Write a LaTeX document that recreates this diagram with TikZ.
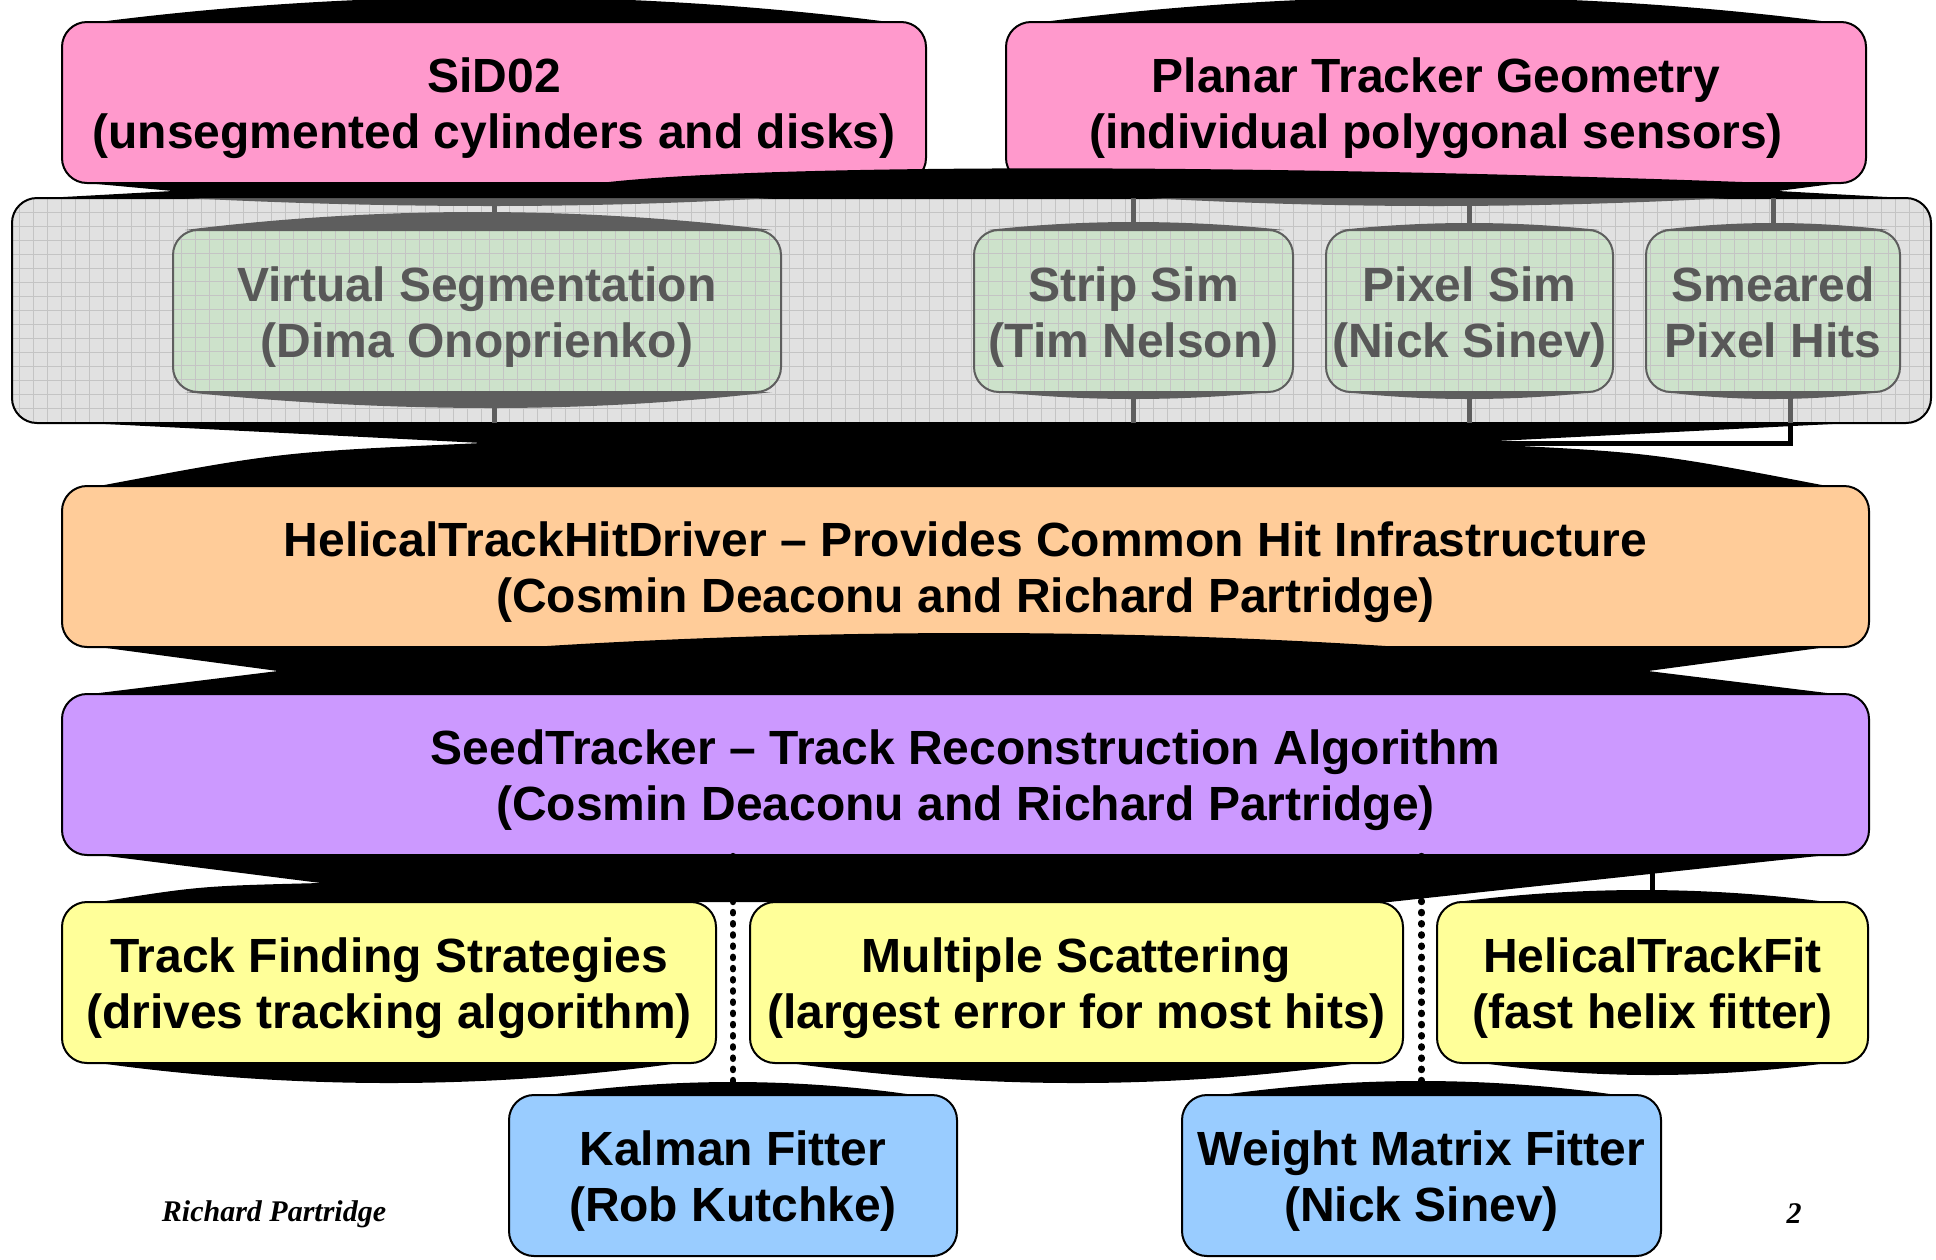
\documentclass[tikz,border=0pt]{standalone}
\usepackage{fontspec}
\setmainfont{Liberation Sans}
\newfontfamily\sigfont{Liberation Serif}
\usetikzlibrary{calc}

\definecolor{pinkfill}{RGB}{255,153,204}
\definecolor{orangefill}{RGB}{255,204,153}
\definecolor{purplefill}{RGB}{204,153,255}
\definecolor{yellowfill}{RGB}{255,255,153}
\definecolor{bluefill}{RGB}{153,204,255}
\definecolor{greenfill}{RGB}{205,226,203}
\definecolor{panelfill}{RGB}{225,225,225}
\definecolor{panelgrid}{RGB}{196,196,196}
\definecolor{shade}{RGB}{94,94,94}
\definecolor{greytext}{RGB}{88,88,88}

% two centred lines, set a little below the middle of their box
\newcommand\twoline[2]{\raisebox{-3.5pt}[\height][\depth]{%
  \begin{tabular}{@{}c@{}}#1\\#2\end{tabular}}}

\tikzset{
  box/.style={draw=black, line width=1pt, rounded corners=12.5pt,
    inner sep=0pt, minimum height=80.5pt,
    font=\fontsize{24}{28}\selectfont\bfseries},
  pinkbox/.style={box, fill=pinkfill},
  orangebox/.style={box, fill=orangefill},
  purplebox/.style={box, fill=purplefill},
  yellowbox/.style={box, fill=yellowfill},
  bluebox/.style={box, fill=bluefill},
  meshed/.style={path picture={
      \draw[panelgrid, line width=0.5pt, step=7pt]
        (path picture bounding box.south west) grid (path picture bounding box.north east);}},
  simbox/.style={box, draw=shade, fill=greenfill, text=greytext, meshed, minimum height=81pt},
  panelbox/.style={draw=black, line width=1pt, rounded corners=12.5pt, fill=panelfill, meshed,
    inner sep=0pt},
  blob/.style={fill=black},
  shadeblob/.style={fill=shade},
  conn/.style={draw=black, line width=2.5pt},
  simconn/.style={draw=shade, line width=2.5pt},
  dotline/.style={draw=black, line width=3.2pt, line cap=round, dash pattern=on 0.6pt off 5pt},
  sig/.style={font=\sigfont\bfseries\itshape\fontsize{15}{18}\selectfont}
}

\begin{document}
\begin{tikzpicture}[x=0.5pt, y=-0.5pt]
\useasboundingbox (0,0) rectangle (1936,1259);
\clip (0,0) rectangle (1936,1259);

% bulges above the two geometry boxes
\fill[blob] (99,22) parabola bend (494,-3) (889,22) -- cycle;
\fill[blob] (1043,22) parabola bend (1436,-3) (1829,22) -- cycle;

% simulation panel
\node[panelbox, minimum width=959.5pt, minimum height=112.5pt] (panel) at (971.5,310.5) {};

% dark bulges inside the panel
\fill[shadeblob] (185,198) parabola bend (492,206) (772,198) -- cycle;
\fill[shadeblob] (1148,198) parabola bend (1436,206) (1728,198) -- cycle;
\fill[shadeblob] (185,230) parabola bend (477,212) (772,230) -- cycle;
\fill[shadeblob] (988,230) parabola bend (1133,222) (1284,230) -- cycle;
\fill[shadeblob] (1340,230) parabola bend (1469,223) (1599,230) -- cycle;
\fill[shadeblob] (1661,230) parabola bend (1773,223) (1889,230) -- cycle;
\fill[shadeblob] (185,392) parabola bend (492,408) (772,392) -- cycle;
\fill[shadeblob] (1000,392) parabola bend (1133,399) (1270,392) -- cycle;
\fill[shadeblob] (1345,392) parabola bend (1469,399) (1595,392) -- cycle;
\fill[shadeblob] (1665,392) parabola bend (1773,399) (1880,392) -- cycle;

% geometry boxes
\node[pinkbox, minimum width=432pt] (sid) at (494,102.5)
  {\twoline{SiD02}{(unsegmented cylinders and disks)}};
\node[pinkbox, minimum width=430pt] (ptg) at (1436,102.5)
  {\twoline{Planar Tracker Geometry}{(individual polygonal sensors)}};

% hit simulation boxes
\node[simbox, minimum width=304pt] (vs) at (477,311)
  {\twoline{Virtual Segmentation}{(Dima Onoprienko)}};
\node[simbox, minimum width=159.5pt] (strip) at (1133.5,311)
  {\twoline{Strip Sim}{(Tim Nelson)}};
\node[simbox, minimum width=143.5pt] (pixel) at (1469.5,311)
  {\twoline{Pixel Sim}{(Nick Sinev)}};
\node[simbox, minimum width=127pt] (smear) at (1773,311)
  {\twoline{Smeared}{Pixel Hits}};

% links inside the panel
\draw[simconn] (sid.south) -- (sid.south |- vs.north);
\draw[simconn] (ptg.south -| strip.north) -- (strip.north);
\draw[simconn] (ptg.south -| pixel.north) -- (pixel.north);
\draw[simconn] (ptg.south -| smear.north) -- (smear.north);
\draw[simconn] (sid.south |- vs.south) -- (sid.south |- panel.south);
\draw[simconn] (strip.south) -- (strip.south |- panel.south);
\draw[simconn] (pixel.south) -- (pixel.south |- panel.south);
\coordinate (smr) at ($(smear.south)+(17,0)$);
\draw[simconn] (smr) -- (smr |- panel.south);

% tracking layers
\node[orangebox, minimum width=903.5pt] (hthd) at (965.5,566.5)
  {\twoline{HelicalTrackHitDriver -- Provides Common Hit Infrastructure}{(Cosmin Deaconu and Richard Partridge)}};
\node[purplebox, minimum width=903.5pt] (seed) at (965.5,774.5)
  {\twoline{SeedTracker -- Track Reconstruction Algorithm}{(Cosmin Deaconu and Richard Partridge)}};

\node[yellowbox, minimum width=327pt] (tfs) at (389,982.5)
  {\twoline{Track Finding Strategies}{(drives tracking algorithm)}};
\node[yellowbox, minimum width=326.5pt] (mss) at (1076.5,982.5)
  {\twoline{Multiple Scattering}{(largest error for most hits)}};
\node[yellowbox, minimum width=215.5pt] (htf) at (1652.5,982.5)
  {\twoline{HelicalTrackFit}{(fast helix fitter)}};

\node[bluebox, minimum width=224pt] (kal) at (733,1175.5)
  {\twoline{Kalman Fitter}{(Rob Kutchke)}};
\node[bluebox, minimum width=239.5pt] (wmf) at (1421.5,1175.5)
  {\twoline{Weight Matrix Fitter}{(Nick Sinev)}};

% black bands between the layers
\fill[blob] (86,183) -- (600,183) .. controls (750,165) and (1200,162) .. (1770,183)
  -- (1840,183) -- (1778,191) -- (1905,198) -- (45,198) -- (173,191) -- cycle;
\fill[blob] (86,423) -- (1852,423) -- (1457,443) .. controls (1650,452) .. (1827,486)
  -- (99,486) .. controls (280,452) .. (482,443) -- cycle;
\fill[blob] (99,647) -- (531,647) parabola bend (975,633) (1401,647) -- (1827,647)
  -- (1648,671) -- (1827,693) -- (99,693) -- (278,671) -- cycle;
\fill[blob] (99,855) -- (1827,855) -- (1389,902) -- (99,902)
  .. controls (200,886) .. (321,883) -- cycle;

% bulges around the lower boxes
\fill[blob] (1457,902) parabola bend (1642,890) (1827,902) -- cycle;
\fill[blob] (99,1063) parabola bend (389,1083) (679,1063) -- cycle;
\fill[blob] (790,1063) parabola bend (1076,1083) (1358,1063) -- cycle;
\fill[blob] (1482,1063) parabola bend (1652,1075) (1827,1063) -- cycle;
\fill[blob] (549,1095) parabola bend (733,1082) (914,1095) -- cycle;
\fill[blob] (1222,1095) parabola bend (1421,1081) (1617,1095) -- cycle;

% connectors
\draw[conn] (smr |- panel.south) -- ++(0,19) coordinate (smrc) -- ++(-339,0);
\draw[conn] (panel.south -| hthd.north) -- (hthd.north);
\draw[conn] (hthd.south) -- (seed.north);
\draw[conn] (seed.south -| tfs.north) -- (tfs.north);
\draw[conn] (seed.south -| mss.north) -- (mss.north);
\draw[conn] (seed.south -| htf.north) -- (htf.north);
\draw[dotline] (seed.south -| kal.north) -- (kal.north);
\draw[dotline] (seed.south -| wmf.north) -- (wmf.north);

% footer
\node[sig] (author) at (274,1214) {Richard Partridge};
\node[sig] (page) at (1794,1214) {2};
\end{tikzpicture}
\end{document}
